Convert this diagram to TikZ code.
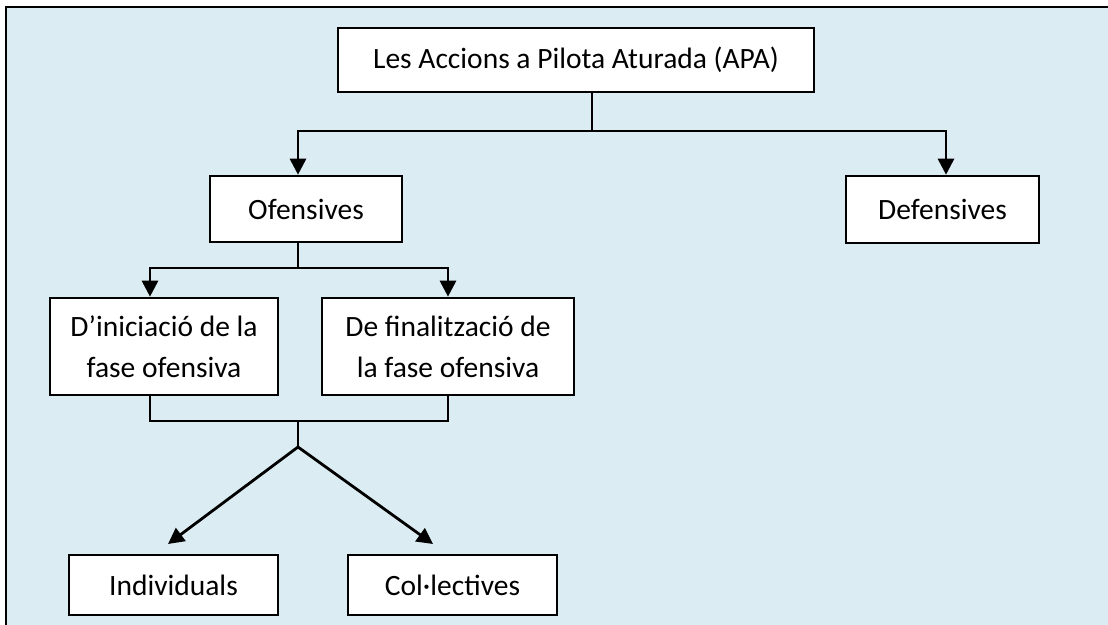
\documentclass[tikz,border=0pt]{standalone}
\usepackage{fontspec}
\setmainfont{Carlito}
\usetikzlibrary{arrows.meta,calc}
\definecolor{bgblue}{RGB}{219,237,243}
\tikzset{
  box/.style={draw=black, line width=2.6pt, fill=white, align=center, inner sep=0pt,
              font=\fontsize{29.5}{41}\selectfont},
  conn/.style={draw=black, line width=2.8pt},
  arr/.style={conn, -{Triangle[length=16pt,width=16pt]}},
}
\begin{document}
\begin{tikzpicture}[x=1pt,y=-1pt]
\useasboundingbox (0,0) rectangle (1108,624);
\clip (0,0) rectangle (1108,624);
\draw[fill=bgblue, line width=2.8pt] (6,7) rectangle (1130,650);

\node[box, minimum width=476pt, minimum height=64pt] (top) at (576,60) {Les Accions a Pilota Aturada (APA)};
\node[box, minimum width=192pt, minimum height=66pt] (ofe) at (306,209) {Ofensives};
\node[box, minimum width=193pt, minimum height=67pt] (def) at (942.5,209.5) {Defensives};
\node[box, minimum width=228pt, minimum height=97pt] (ini) at (164,346.5) {D’iniciació de la\\fase ofensiva};
\node[box, minimum width=252pt, minimum height=97pt] (fin) at (448,346.5) {De finalització de\\la fase ofensiva};
\node[box, minimum width=209pt, minimum height=60pt] (ind) at (173.5,585) {Individuals};
\node[box, minimum width=209pt, minimum height=60pt] (col) at (452.5,585) {Col·lectives};

\coordinate (j1) at (592,131);
\coordinate (j2) at (298,268);
\coordinate (j3) at (298,421);
\coordinate (j4) at (298,447);
\coordinate (t1) at (168,544);
\coordinate (t2) at (433,544);

\draw[conn] ($(top.south)+(16,0)$) -- (j1);
\draw[arr] (j1) -| ($(ofe.north)+(-8,0)$);
\draw[arr] (j1) -| ($(def.north)+(3.5,0)$);
\draw[conn] ($(ofe.south)+(-8,0)$) -- (j2);
\draw[arr] (j2) -| ($(ini.north)+(-14,0)$);
\draw[arr] (j2) -| (fin.north);
\draw[conn] ($(ini.south)+(-14,0)$) |- (j3);
\draw[conn] (fin.south) |- (j3);
\draw[conn] (j3) -- (j4);
\draw[arr] (j4) -- (t1);
\draw[arr] (j4) -- (t2);
\end{tikzpicture}
\end{document}
